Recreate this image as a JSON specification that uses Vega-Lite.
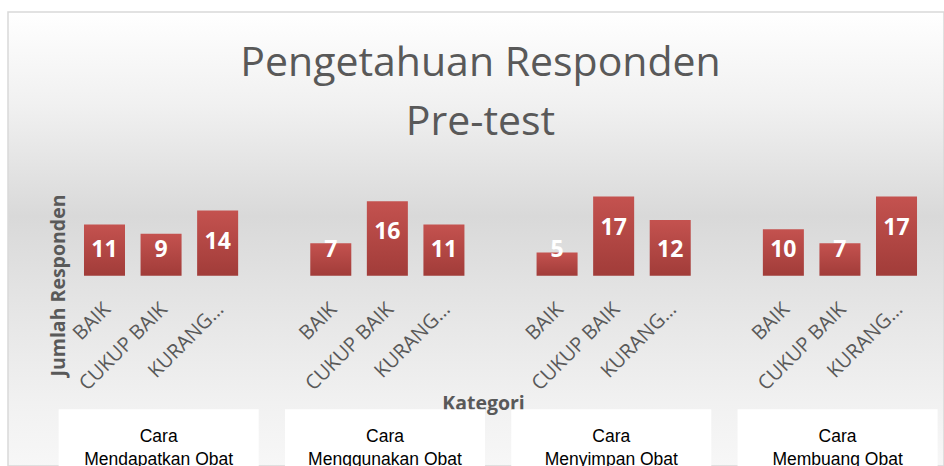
{
  "$schema": "https://vega.github.io/schema/vega-lite/v6.json",
  "width": 936,
  "height": 454,
  "autosize": {"type": "none"},
  "padding": {"left": 8, "top": 12, "right": 0, "bottom": 0},
  "background": "#ffffff",
  "view": {
    "fill": {"gradient": "linear", "x1": 0, "y1": 0, "x2": 0, "y2": 1,
      "stops": [
        {"offset": 0, "color": "#ffffff"},
        {"offset": 0.2, "color": "#f1f1f1"},
        {"offset": 0.45, "color": "#d9d9d9"},
        {"offset": 0.7, "color": "#e8e8e8"},
        {"offset": 0.86, "color": "#f1f1f1"},
        {"offset": 1, "color": "#f7f7f7"}
      ]},
    "stroke": "#d9d9d9",
    "strokeWidth": 1.5
  },
  "title": {
    "text": ["Pengetahuan Responden", "Pre-test"],
    "font": "Open Sans",
    "fontSize": 41,
    "fontWeight": "normal",
    "color": "#595959",
    "lineHeight": 59,
    "anchor": "middle",
    "frame": "group",
    "baseline": "alphabetic",
    "offset": -163.5,
    "dx": 4.5
  },
  "datasets": {
    "responden": [
      {"kelompok": "Cara Mendapatkan Obat", "kategori": "BAIK", "slot": "A|BAIK", "jumlah": 11},
      {"kelompok": "Cara Mendapatkan Obat", "kategori": "CUKUP BAIK", "slot": "A|CUKUP BAIK", "jumlah": 9},
      {"kelompok": "Cara Mendapatkan Obat", "kategori": "KURANG BAIK", "slot": "A|KURANG BAIK", "jumlah": 14},
      {"kelompok": "Cara Menggunakan Obat", "kategori": "BAIK", "slot": "B|BAIK", "jumlah": 7},
      {"kelompok": "Cara Menggunakan Obat", "kategori": "CUKUP BAIK", "slot": "B|CUKUP BAIK", "jumlah": 16},
      {"kelompok": "Cara Menggunakan Obat", "kategori": "KURANG BAIK", "slot": "B|KURANG BAIK", "jumlah": 11},
      {"kelompok": "Cara Menyimpan Obat", "kategori": "BAIK", "slot": "C|BAIK", "jumlah": 5},
      {"kelompok": "Cara Menyimpan Obat", "kategori": "CUKUP BAIK", "slot": "C|CUKUP BAIK", "jumlah": 17},
      {"kelompok": "Cara Menyimpan Obat", "kategori": "KURANG BAIK", "slot": "C|KURANG BAIK", "jumlah": 12},
      {"kelompok": "Cara Membuang Obat", "kategori": "BAIK", "slot": "D|BAIK", "jumlah": 10},
      {"kelompok": "Cara Membuang Obat", "kategori": "CUKUP BAIK", "slot": "D|CUKUP BAIK", "jumlah": 7},
      {"kelompok": "Cara Membuang Obat", "kategori": "KURANG BAIK", "slot": "D|KURANG BAIK", "jumlah": 17}
    ],
    "kelompokList": [
      {"kelompok": "Cara Mendapatkan Obat"},
      {"kelompok": "Cara Menggunakan Obat"},
      {"kelompok": "Cara Menyimpan Obat"},
      {"kelompok": "Cara Membuang Obat"}
    ]
  },
  "layer": [
    {
      "data": {"name": "responden"},
      "layer": [
        {
          "mark": {
            "type": "bar",
            "color": {"gradient": "linear", "x1": 0, "y1": 0, "x2": 0, "y2": 1,
              "stops": [
                {"offset": 0, "color": "#c4524f"},
                {"offset": 1, "color": "#a13c39"}
              ]}
          },
          "encoding": {
            "x": {
              "field": "slot",
              "type": "nominal",
              "sort": null,
              "scale": {
                "domain": ["A|BAIK", "A|CUKUP BAIK", "A|KURANG BAIK", "s1",
                           "B|BAIK", "B|CUKUP BAIK", "B|KURANG BAIK", "s2",
                           "C|BAIK", "C|CUKUP BAIK", "C|KURANG BAIK", "s3",
                           "D|BAIK", "D|CUKUP BAIK", "D|KURANG BAIK"],
                "paddingInner": 0.275,
                "paddingOuter": 0.91,
                "align": 0.738
              },
              "axis": {
                "orient": "bottom",
                "offset": -190.2,
                "domain": false,
                "ticks": false,
                "grid": false,
                "labelAngle": -45,
                "labelAlign": "right",
                "labelBaseline": "middle",
                "labelPadding": 30,
                "labelOffset": 3,
                "labelFont": "Open Sans",
                "labelFontSize": 20,
                "labelColor": "#595959",
                "labelOverlap": false,
                "labelLimit": 300,
                "labelExpr": "indexof(datum.value, '|') < 0 ? '' : (indexof(datum.value, 'KURANG') >= 0 ? 'KURANG…' : split(datum.value, '|')[1])",
                "title": "Kategori",
                "titleX": 475,
                "titleY": 133.5,
                "titleAlign": "center",
                "titleBaseline": "alphabetic",
                "titleFont": "Open Sans",
                "titleFontSize": 19.5,
                "titleFontWeight": "bold",
                "titleColor": "#595959"
              }
            },
            "y": {
              "field": "jumlah",
              "type": "quantitative",
              "scale": {"domain": [-40.8, 56.6], "nice": false, "zero": false},
              "axis": {
                "title": "Jumlah Responden",
                "labels": false,
                "ticks": false,
                "domain": false,
                "grid": false,
                "titleX": 56,
                "titleY": 273,
                "titleAngle": -90,
                "titleAlign": "center",
                "titleBaseline": "alphabetic",
                "titleFont": "Open Sans",
                "titleFontSize": 19.5,
                "titleFontWeight": "bold",
                "titleColor": "#595959"
              }
            },
            "y2": {"datum": 0}
          }
        },
        {
          "transform": [{"filter": "datum.jumlah >= 13"}],
          "mark": {"type": "text", "font": "Open Sans", "fontSize": 23, "fontWeight": "bold", "color": "#ffffff", "baseline": "middle", "dy": 31},
          "encoding": {
            "x": {"field": "slot", "type": "nominal", "sort": null},
            "y": {"field": "jumlah", "type": "quantitative"},
            "text": {"field": "jumlah", "type": "quantitative"}
          }
        },
        {
          "transform": [{"filter": "datum.jumlah < 13"}],
          "mark": {"type": "text", "font": "Open Sans", "fontSize": 23, "fontWeight": "bold", "color": "#ffffff", "baseline": "middle"},
          "encoding": {
            "x": {"field": "slot", "type": "nominal", "sort": null},
            "y": {"datum": 5.45},
            "text": {"field": "jumlah", "type": "quantitative"}
          }
        }
      ]
    },
    {
      "data": {"name": "kelompokList"},
      "mark": {"type": "rect", "fill": "#ffffff"},
      "encoding": {
        "x": {
          "field": "kelompok",
          "type": "nominal",
          "sort": null,
          "scale": {"paddingInner": 0.116, "paddingOuter": 0.126, "align": 0.888},
          "axis": {
            "orient": "bottom",
            "offset": -38.8,
            "domain": false,
            "ticks": false,
            "grid": false,
            "zindex": 1,
            "labelAngle": 0,
            "labelAlign": "center",
            "labelBaseline": "top",
            "labelPadding": 0,
            "labelLineHeight": 23,
            "labelFont": "Liberation Sans",
            "labelFontSize": 17.5,
            "labelColor": "#000000",
            "labelLimit": 400,
            "labelExpr": "[slice(datum.value, 0, 4), slice(datum.value, 5)]",
            "title": null
          }
        },
        "y": {"datum": -28.6},
        "y2": {"datum": -40.8}
      }
    }
  ],
  "resolve": {"scale": {"x": "independent"}, "axis": {"x": "independent"}}
}
